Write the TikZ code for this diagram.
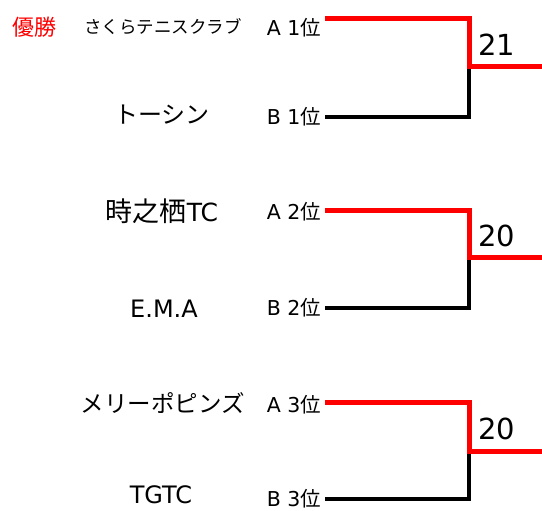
\documentclass[tikz,border=0pt]{standalone}
\usepackage{fontspec}
\usepackage{tikz}
\usetikzlibrary{positioning}
\newfontfamily\jpfont{Noto Sans CJK JP}
\newfontfamily\latfont{DejaVu Sans}
\newcommand{\fs}[1]{\fontsize{#1}{#1}\selectfont}
\newcommand{\rank}[2]{#1\ #2{\jpfont 位}}

\begin{document}
\begin{tikzpicture}[x=1pt, y=-1pt, node distance=8pt]
        \tikzstyle{seed} = [font=\latfont\fs{20.5}, anchor=east, inner sep=0pt, outer sep=4pt];
        \tikzstyle{team} = [font=\jpfont\fs{24}, inner sep=0pt];
        \tikzstyle{score} = [font=\latfont\fs{29}, inner sep=0pt];
        \tikzstyle{win} = [red, line width=5pt];
        \tikzstyle{lose} = [black, line width=3.3pt];
        \useasboundingbox (0,0) rectangle (542,511);

        \node [font=\jpfont\fs{22}, red, inner sep=0pt] (champ) at (34.5,27) {優勝};

        \node [seed] (a1) at (325,28) {\rank{A}{1}};
        \node [seed] (b1) at (325,117) {\rank{B}{1}};
        \node [team, font=\jpfont\fs{17.5}] (ta1) at (163,27) {さくらテニスクラブ};
        \node [team] (tb1) at (162,115) {トーシン};
        \coordinate (t1) at (469,19);
        \coordinate (m1) at (469,67);
        \coordinate (e1) at (542,67);
        \draw [lose] (b1.east) -| (m1);
        \draw [win] (a1.east |- t1) -| (m1) -- (e1);
        \node [score, above right=11pt and 9pt of m1, anchor=south west] (s1) {21};

        \node [seed] (a2) at (325,212) {\rank{A}{2}};
        \node [seed] (b2) at (325,308) {\rank{B}{2}};
        \node [team, font=\jpfont\fs{27}] (ta2) at (162,211) {時之栖{\latfont\fs{25}TC}};
        \node [team, font=\latfont\fs{24}] (tb2) at (164,309) {E.M.A};
        \coordinate (t2) at (469,210.5);
        \coordinate (m2) at (469,258);
        \coordinate (e2) at (542,258);
        \draw [lose] (b2.east) -| (m2);
        \draw [win] (a2.east |- t2) -| (m2) -- (e2);
        \node [score, above right=11pt and 9pt of m2, anchor=south west] (s2) {20};

        \node [seed] (a3) at (325,405) {\rank{A}{3}};
        \node [seed] (b3) at (325,499) {\rank{B}{3}};
        \node [team, font=\jpfont\fs{23.5}] (ta3) at (163,403) {メリーポピンズ};
        \node [team, font=\latfont\fs{24}] (tb3) at (161,495) {TGTC};
        \coordinate (t3) at (469,402);
        \coordinate (m3) at (469,451);
        \coordinate (e3) at (542,451);
        \draw [lose] (b3.east) -| (m3);
        \draw [win] (a3.east |- t3) -| (m3) -- (e3);
        \node [score, above right=11pt and 9pt of m3, anchor=south west] (s3) {20};
\end{tikzpicture}
\end{document}
